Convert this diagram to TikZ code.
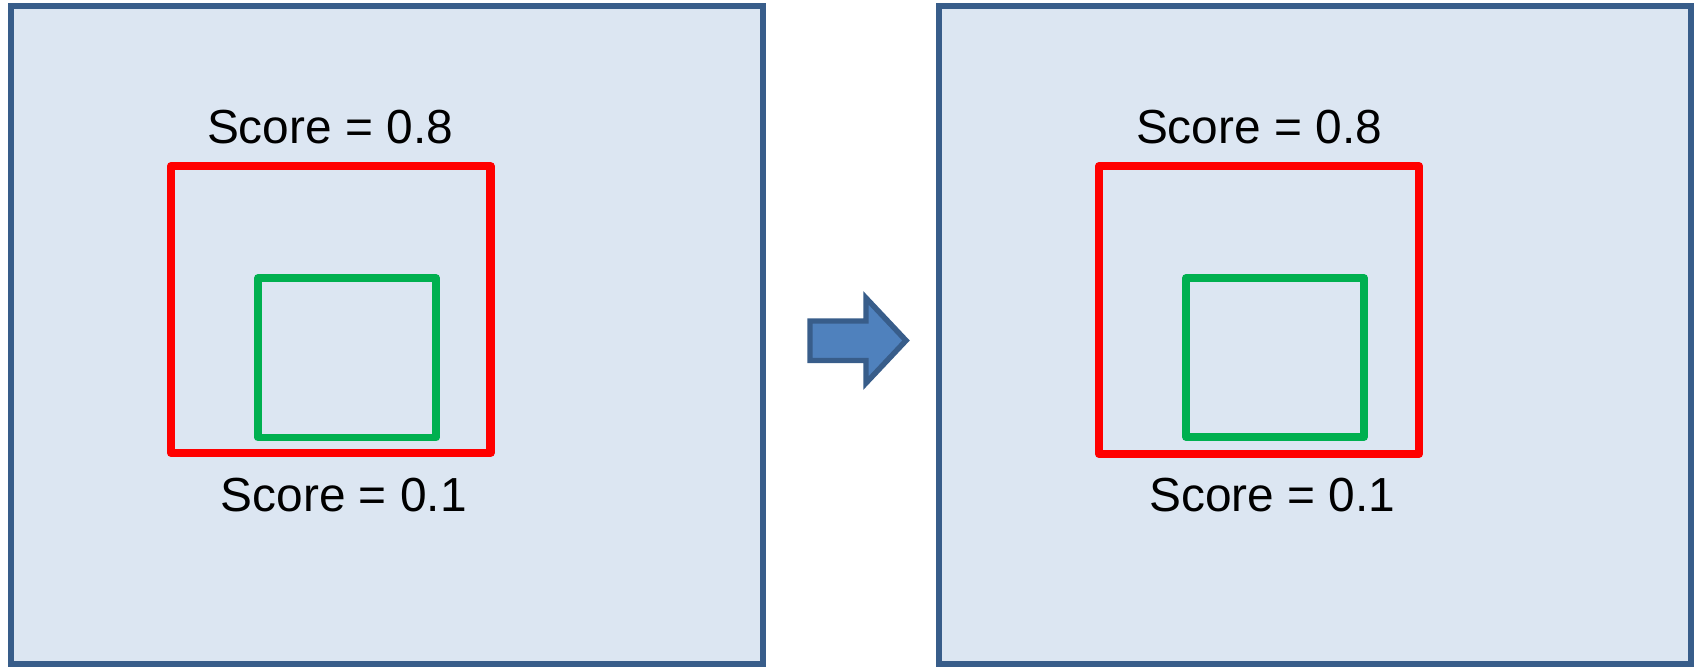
\documentclass[tikz,border=0pt]{standalone}
\usepackage{fontspec}
\setmainfont{Liberation Sans}
\definecolor{panelfill}{HTML}{DCE6F2}
\definecolor{paneldraw}{HTML}{385D8A}
\definecolor{arrowfill}{HTML}{4F81BD}
\definecolor{boxred}{HTML}{FF0000}
\definecolor{boxgreen}{HTML}{00B050}
\tikzset{
  panel/.style={fill=panelfill, draw=paneldraw, line width=1.45pt},
  redbox/.style={draw=boxred, line width=2.3pt, line join=round},
  greenbox/.style={draw=boxgreen, line width=2.15pt, line join=round},
  bigarrow/.style={fill=arrowfill, draw=paneldraw, line width=1.55pt, line join=miter},
  score/.style={anchor=base, inner sep=0pt, font=\fontsize{13.6pt}{16pt}\selectfont}
}
\begin{document}
\begin{tikzpicture}[x=0.01cm, y=-0.01cm]
\useasboundingbox (0,0) rectangle (1698,666);
% panels
\draw[panel] (11,6) rectangle (763,664);
\draw[panel] (939,6) rectangle (1691,664);
% left panel boxes
\draw[redbox] (171,166) rectangle (490.5,453);
\draw[greenbox] (258,278) rectangle (436,437.5);
\node[score] (l8) at (330,143.3) {Score = 0.8};
\node[score] (l1) at (343.7,511.7) {Score = 0.1};
% right panel boxes
\draw[redbox] (1099,166) rectangle (1419,454);
\draw[greenbox] (1186,278) rectangle (1364,437);
\node[score] (r8) at (1259,143.3) {Score = 0.8};
\node[score] (r1) at (1272.4,511.7) {Score = 0.1};
% arrow
\draw[bigarrow] (810,321) -- (866,321) -- (866,298) -- (906,340.5) -- (866,383) -- (866,360.5) -- (810,360.5) -- cycle;
\end{tikzpicture}
\end{document}
